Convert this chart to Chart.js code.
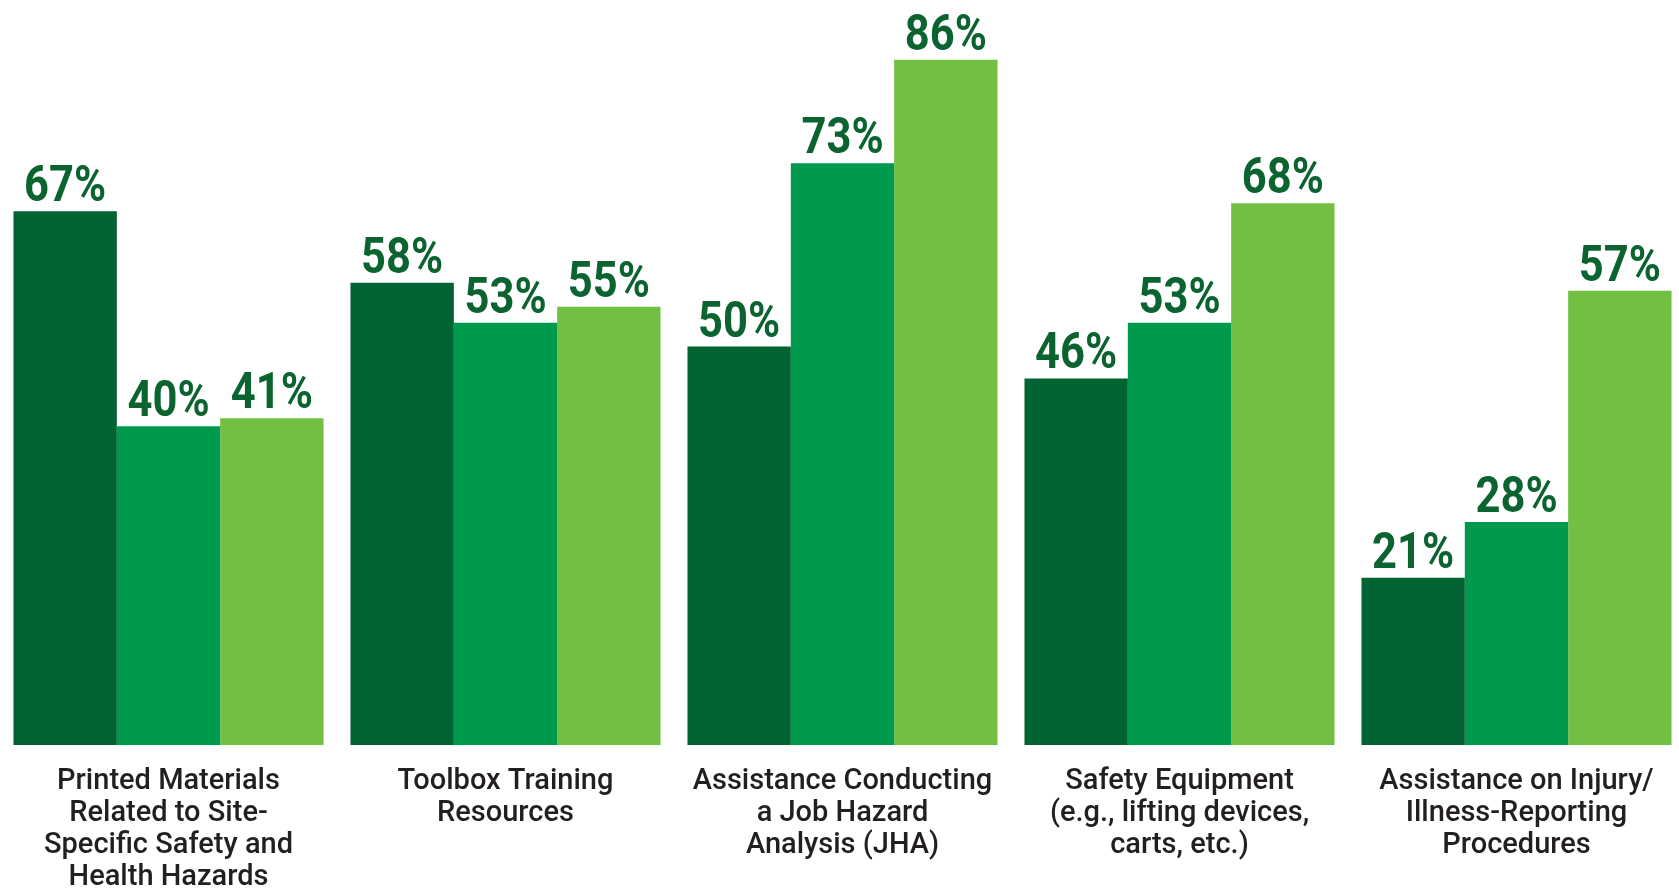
<!DOCTYPE html>
<html>
<head>
<meta charset="utf-8">
<script src="https://cdn.jsdelivr.net/npm/chart.js@4.4.1/dist/chart.umd.min.js"></script>
<style>
  html, body { margin: 0; padding: 0; background: #fff; overflow: hidden; }
  #wrap { width: 1685px; height: 888px; position: relative; }
</style>
</head>
<body>
<div id="wrap"><canvas id="chart"></canvas></div>
<script>
  // Chart data
  const categories = [
    ['Printed Materials', 'Related to Site-', 'Specific Safety and', 'Health Hazards'],
    ['Toolbox Training', 'Resources'],
    ['Assistance Conducting', 'a Job Hazard', 'Analysis (JHA)'],
    ['Safety Equipment', '(e.g., lifting devices,', 'carts, etc.)'],
    ['Assistance on Injury/', 'Illness-Reporting', 'Procedures']
  ];
  const seriesNames = ['Series 1', 'Series 2', 'Series 3'];
  const series1 = [67, 58, 50, 46, 21];
  const series2 = [40, 53, 73, 53, 28];
  const series3 = [41, 55, 86, 68, 57];
  const seriesColors = ['#006331', '#009a4e', '#72bf44'];

  // Percent labels drawn above each bar
  const valueLabels = {
    id: 'valueLabels',
    afterDatasetsDraw(chart) {
      const ctx = chart.ctx;
      ctx.save();
      ctx.fillStyle = '#0b6430';
      ctx.font = '700 50px Roboto, "Liberation Sans", sans-serif';
      ctx.textAlign = 'center';
      ctx.textBaseline = 'alphabetic';
      chart.data.datasets.forEach((ds, i) => {
        chart.getDatasetMeta(i).data.forEach((bar, j) => {
          ctx.save();
          ctx.translate(bar.x, bar.y - 10);
          ctx.scale(0.87, 1);
          ctx.fillText(ds.data[j] + '%', 0, 0);
          ctx.restore();
        });
      });
      ctx.restore();
    }
  };

  const datasets = [series1, series2, series3].map((data, i) => ({
    label: seriesNames[i],
    data: data,
    backgroundColor: seriesColors[i],
    borderWidth: 0,
    barPercentage: 1.0,
    categoryPercentage: 0.92
  }));

  new Chart(document.getElementById('chart'), {
    type: 'bar',
    data: { labels: categories, datasets: datasets },
    options: {
      responsive: true,
      maintainAspectRatio: false,
      animation: false,
      layout: { padding: 0 },
      plugins: {
        legend: { display: false },
        tooltip: { enabled: false }
      },
      scales: {
        x: {
          grid: { display: false, drawTicks: false },
          border: { display: false },
          afterFit(scale) { scale.height = 143; },
          ticks: {
            color: '#231f20',
            font: { family: 'Roboto', size: 29, weight: 500, lineHeight: '32px' },
            padding: 21,
            maxRotation: 0,
            autoSkip: false
          }
        },
        y: {
          display: false,
          min: 0,
          max: 93.5
        }
      }
    },
    plugins: [valueLabels]
  });
</script>
</body>
</html>
